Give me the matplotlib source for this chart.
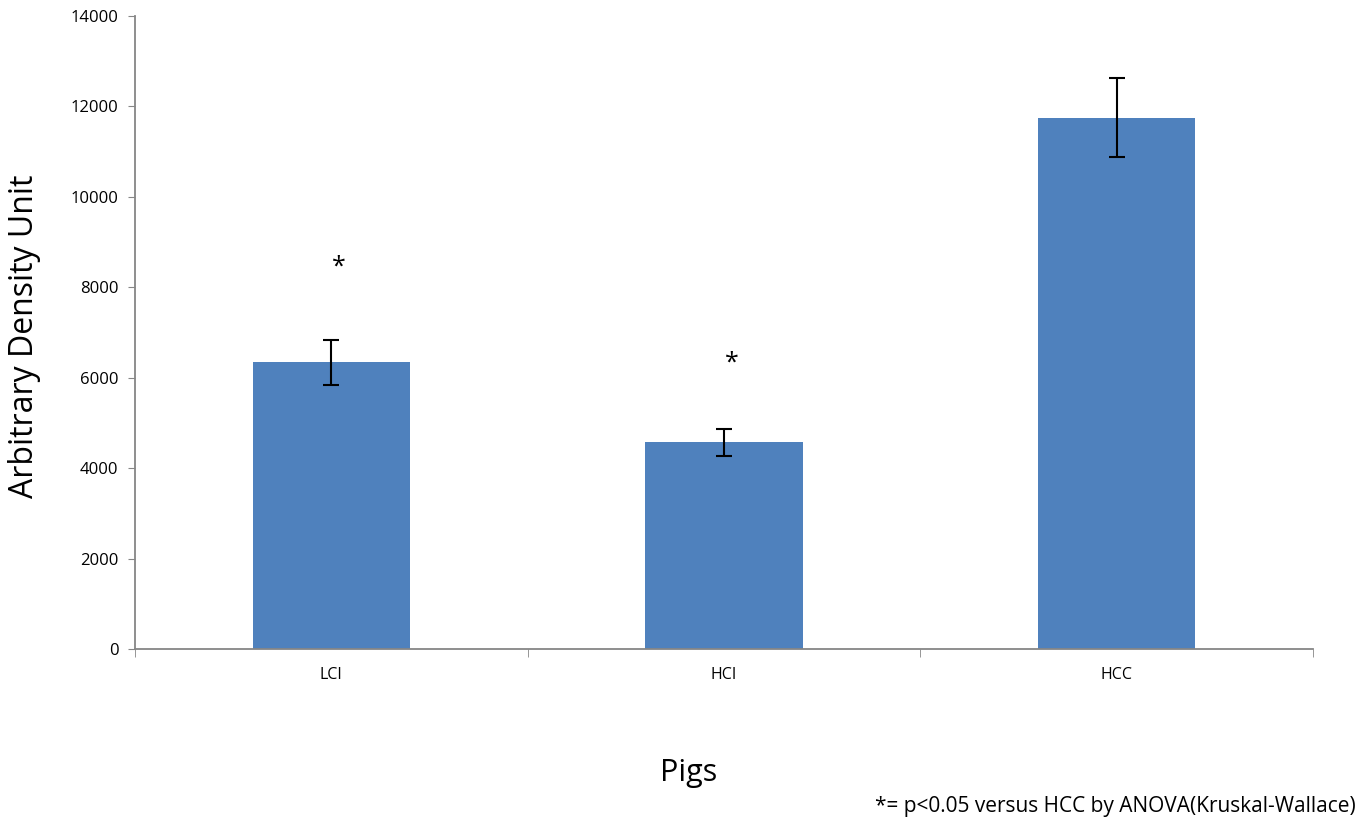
import matplotlib.pyplot as plt

plt.rcParams['font.family'] = ['Open Sans', 'DejaVu Sans']

# Data
groups = ['LCI', 'HCI', 'HCC']
means = [6340, 4570, 11750]
errors = [500, 300, 870]
stars = [8440, 6330, None]

fig = plt.figure(figsize=(13.71, 8.27), dpi=100)
ax = fig.add_axes([0.0985, 0.2152, 0.8592, 0.7655])

x = list(range(len(groups)))
ax.bar(x, means, width=0.4, color='#4f81bd', zorder=2)
ax.errorbar(x, means, yerr=errors, fmt='none', ecolor='black',
            elinewidth=1.5, capsize=6, capthick=1.5, zorder=3)

for xi, s in zip(x, stars):
    if s is not None:
        ax.text(xi + 0.02, s, '*', ha='center', va='center', fontsize=18)

ax.set_xlim(-0.5, 2.5)
ax.set_ylim(0, 14000)
ax.set_yticks(range(0, 14001, 2000))
ax.set_xticks(x)
ax.set_xticklabels(groups)
ax.set_xticks([-0.5, 0.5, 1.5, 2.5], minor=True)
ax.tick_params(axis='x', which='major', length=0, pad=13, labelsize=11.5)
ax.tick_params(axis='x', which='minor', length=6, color='#868686')
ax.tick_params(axis='y', length=5, pad=7, color='#868686', labelsize=12)

for side in ['top', 'right']:
    ax.spines[side].set_visible(False)
for side in ['left', 'bottom']:
    ax.spines[side].set_color('#868686')
    ax.spines[side].set_linewidth(1.3)

ax.set_ylabel('Arbitrary Density Unit', fontsize=23)
ax.yaxis.set_label_coords(-0.0795, 0.494)
fig.text(0.5025, 0.065, 'Pigs', ha='center', va='center', fontsize=22)
fig.text(0.989, 0.025, '*= p<0.05 versus HCC by ANOVA(Kruskal-Wallace)',
         ha='right', va='center', fontsize=15)

fig.savefig('out.png', dpi=100)
